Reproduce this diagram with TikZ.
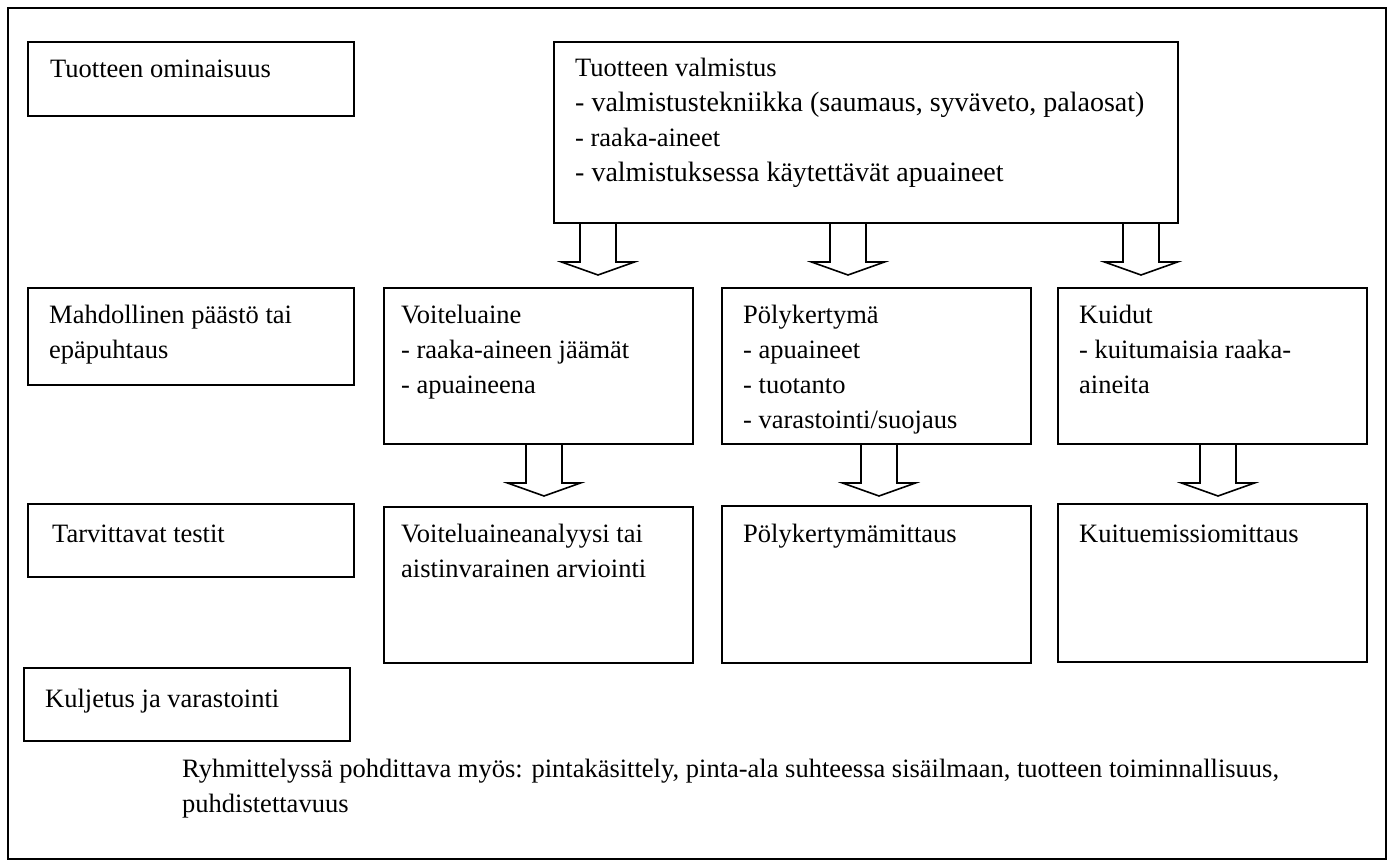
\documentclass[tikz,border=0pt]{standalone}
\usepackage{fontspec}
\setmainfont{Liberation Serif}
\usetikzlibrary{calc}
\newcommand\widerline[1]{{\fontsize{28}{35}\selectfont #1}}
\begin{document}
\begin{tikzpicture}[x=1pt,y=-1pt,
 box/.style={draw,line width=1.6pt,anchor=north west,inner sep=0pt,outer sep=0pt},
 txt/.style={anchor=base west,inner sep=0pt,align=left,font=\fontsize{26.5}{35}\selectfont},
 barrow/.style={draw,fill=white,line width=1.6pt,line join=miter}]
\useasboundingbox (0,0) rectangle (1395,861);
\draw[line width=2pt] (8,8) rectangle (1386,859);
% boxes
\node[box,minimum width=326pt,minimum height=74pt]  (om)  at (28,42)   {};
\node[box,minimum width=624pt,minimum height=181pt] (val) at (554,42)  {};
\node[box,minimum width=326pt,minimum height=97pt]  (mah) at (28,288)  {};
\node[box,minimum width=309pt,minimum height=156pt] (voi) at (384,288) {};
\node[box,minimum width=309pt,minimum height=156pt] (pol) at (722,288) {};
\node[box,minimum width=309pt,minimum height=156pt] (kui) at (1058,288) {};
\node[box,minimum width=326pt,minimum height=73pt]  (tar) at (28,504)  {};
\node[box,minimum width=309pt,minimum height=156pt] (voa) at (384,507) {};
\node[box,minimum width=309pt,minimum height=157pt] (pom) at (722,506) {};
\node[box,minimum width=309pt,minimum height=158pt] (kum) at (1058,504) {};
\node[box,minimum width=326pt,minimum height=73pt]  (kul) at (24,668)  {};
% texts (base = baseline of the last line; line spacing 35)
\node[txt] (tom) at (50,78) {Tuotteen ominaisuus};
\node[txt] (tval) at (575,182) {Tuotteen valmistus\\\widerline{- valmistustekniikka (saumaus, syväveto, palaosat)}\\- raaka-aineet\\\widerline{- valmistuksessa käytettävät apuaineet}};
\node[txt] (tmah) at (49,358) {Mahdollinen päästö tai\\epäpuhtaus};
\node[txt] (tvoi) at (401,393) {Voiteluaine\\- raaka-aineen jäämät\\- apuaineena};
\node[txt] (tpol) at (743,428) {Pölykertymä\\- apuaineet\\- tuotanto\\- varastointi/suojaus};
\node[txt] (tkui) at (1079,393) {Kuidut\\- kuitumaisia raaka-\\aineita};
\node[txt] (ttar) at (52,542) {Tarvittavat testit};
\node[txt] (tvoa) at (401,577) {Voiteluaineanalyysi tai\\aistinvarainen arviointi};
\node[txt] (tpom) at (743,542) {Pölykertymämittaus};
\node[txt] (tkum) at (1079,542) {Kuituemissiomittaus};
\node[txt] (tkul) at (45,707) {Kuljetus ja varastointi};
\node[txt] (tnote) at (182,812) {Ryhmittelyssä pohdittava myös: pintakäsittely, pinta-ala suhteessa sisäilmaan, tuotteen toiminnallisuus,\\puhdistettavuus};
% block arrows
\coordinate (a1) at ($(val.south west)+(44,0)$);
\coordinate (a2) at ($(val.south west)+(294,0)$);
\coordinate (a3) at ($(val.south west)+(587,0)$);
\coordinate (b1) at ($(voi.south west)+(160,0)$);
\coordinate (b2) at ($(pol.south west)+(157,0)$);
\coordinate (b3) at ($(kui.south west)+(160,0)$);
\foreach \c in {a1,a2,a3,b1,b2,b3}{
  \draw[barrow] (\c) ++(-18,0) -- ++(0,39) -- ++(-18.5,0) -- ++(36.5,13) -- ++(36.5,-13) -- ++(-18.5,0) -- ++(0,-39) -- cycle;
}
\end{tikzpicture}
\end{document}
